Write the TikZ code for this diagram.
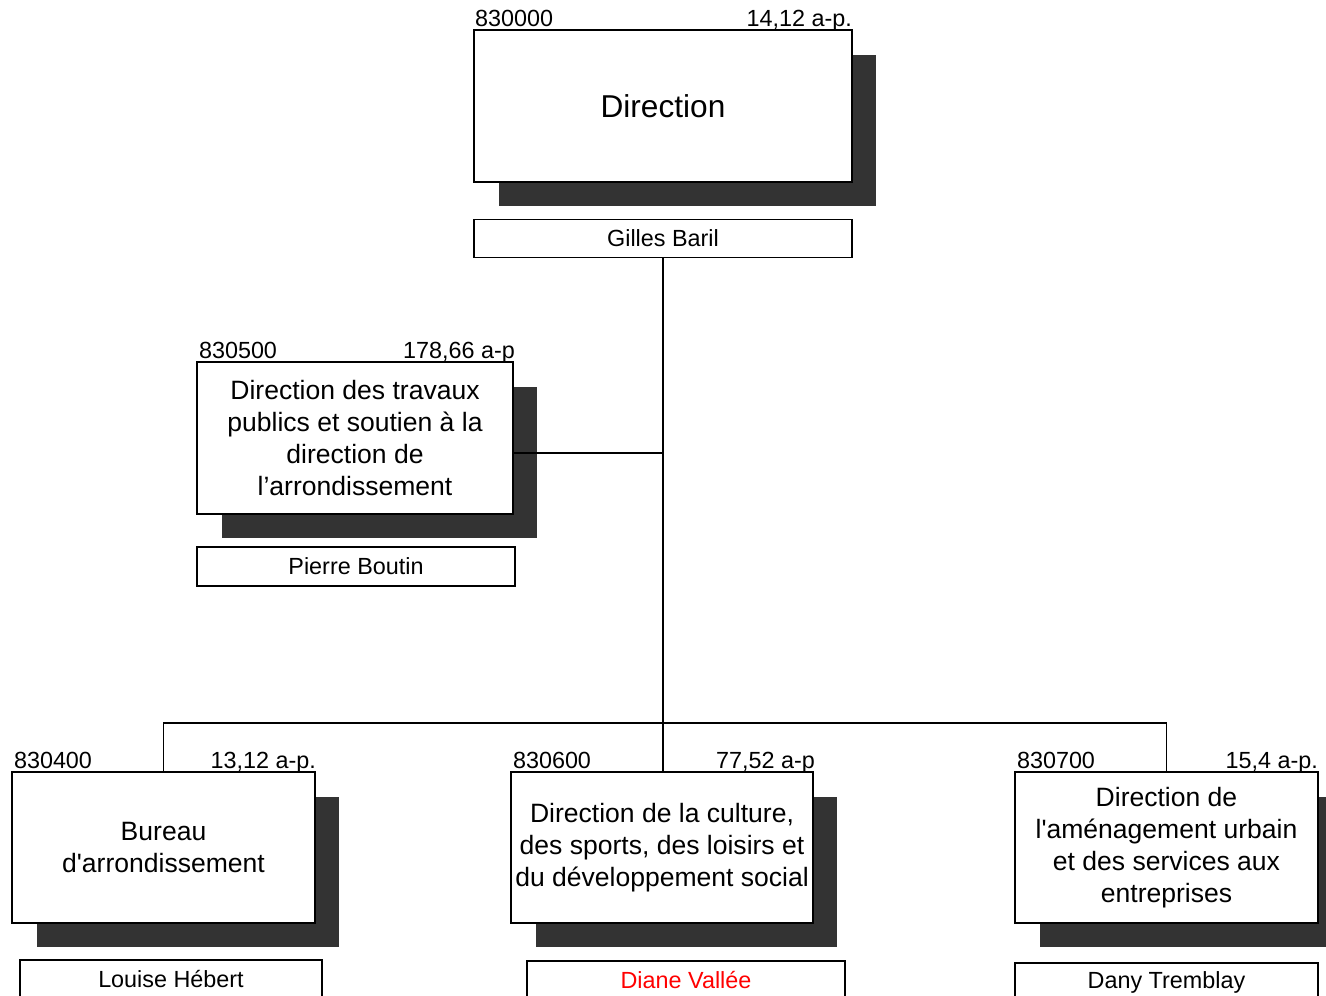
\documentclass[tikz,border=0pt]{standalone}
\usepackage{fontspec}
\setmainfont{Liberation Sans}
\usetikzlibrary{shadows}
\definecolor{shadowgray}{RGB}{51,51,51}
\definecolor{namered}{RGB}{255,0,0}

\begin{document}
\begin{tikzpicture}[x=0.02cm,y=-0.02cm,line width=1.1pt,
  unitbox/.style={draw,fill=white,align=center,inner sep=1pt,
    minimum height=3.02cm,font=\fontsize{15.1}{18.1}\selectfont,
    drop shadow={shadow xshift=0.49cm,shadow yshift=-0.49cm,opacity=1,fill=shadowgray}},
  namebox/.style={draw,fill=white,inner sep=0pt,minimum height=0.76cm,
    font=\fontsize{13.3}{16}\selectfont},
  unitcode/.style={anchor=base west,inner sep=0pt,font=\fontsize{13.3}{16}\selectfont},
  unitap/.style={anchor=base east,inner sep=0pt,font=\fontsize{13.3}{16}\selectfont}]
  \useasboundingbox (0,0) rectangle (1326,995);
  \clip (0,0) rectangle (1326,995);

  \node[unitbox,minimum width=7.56cm,minimum height=3.04cm,
    font=\fontsize{18}{21.6}\selectfont] (dir) at (663,106) {Direction};
  \node[namebox,minimum width=7.56cm] (gil) at (663,238.5) {Gilles Baril};
  \node[unitbox,minimum width=6.32cm,minimum height=3.04cm] (dtp) at (355,438)
    {Direction des travaux\\publics et soutien à la\\direction de\\l’arrondissement};
  \node[namebox,minimum width=6.36cm,minimum height=0.78cm] (pie) at (356,566.5) {Pierre Boutin};

  \node[unitbox,minimum width=6.06cm] (bur) at (163.5,847.5)
    {Bureau\\d\textquotesingle arrondissement};
  \node[unitbox,minimum width=6.04cm] (dcs) at (662,847.5)
    {Direction de la culture,\\des sports, des loisirs et\\du développement social};
  \node[unitbox,minimum width=6.06cm] (dam) at (1166.5,847.5)
    {Direction de\\l\textquotesingle aménagement urbain\\et des services aux\\entreprises};
  \node[namebox,minimum width=6.04cm] (lou) at (171,979) {Louise Hébert};
  \node[namebox,minimum width=6.36cm,text=namered] (dia) at (686,980) {Diane Vallée};
  \node[namebox,minimum width=6.06cm] (dan) at (1166.5,982) {Dany Tremblay};

  \node[unitcode] (c0) at ([xshift=0.02cm,yshift=0.06cm]dir.north west) {830000};
  \node[unitap] (a0) at ([yshift=0.06cm]dir.north east) {14,12 a-p.};
  \node[unitcode] (c5) at ([xshift=0.04cm,yshift=0.06cm]dtp.north west) {830500};
  \node[unitap] (a5) at ([xshift=0.04cm,yshift=0.06cm]dtp.north east) {178,66 a-p};
  \node[unitcode] (c4) at ([xshift=0.04cm,yshift=0.06cm]bur.north west) {830400};
  \node[unitap] (a4) at ([xshift=0.02cm,yshift=0.06cm]bur.north east) {13,12 a-p.};
  \node[unitcode] (c6) at ([xshift=0.04cm,yshift=0.06cm]dcs.north west) {830600};
  \node[unitap] (a6) at ([xshift=0.04cm,yshift=0.06cm]dcs.north east) {77,52 a-p};
  \node[unitcode] (c7) at ([xshift=0.04cm,yshift=0.06cm]dam.north west) {830700};
  \node[unitap] (a7) at ([yshift=0.06cm]dam.north east) {15,4 a-p.};

  \coordinate (j1) at (663,453);
  \coordinate (j2) at (663,723);
  \draw (gil.south) -- (j2);
  \draw (j1) -- (j1 -| dtp.east);
  \draw (j2) -- (j2 |- dcs.north);
  \draw (bur.north) |- (j2) -| (dam.north);
\end{tikzpicture}
\end{document}
